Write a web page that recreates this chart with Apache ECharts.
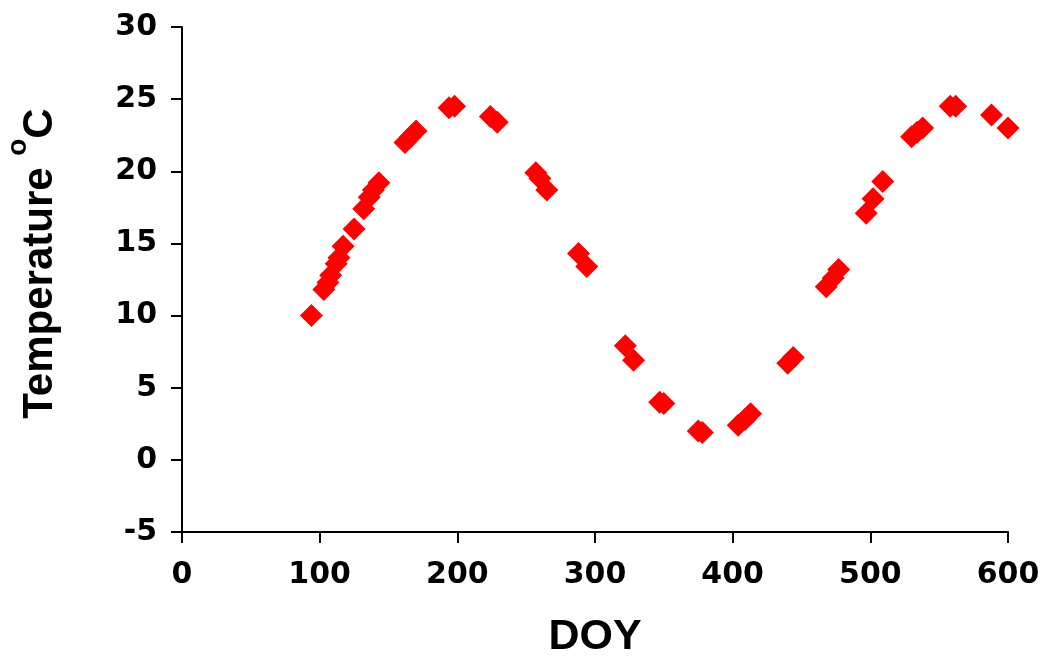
<!DOCTYPE html>
<html>
<head>
<meta charset="utf-8">
<script src="https://cdn.jsdelivr.net/npm/echarts@6/dist/echarts.min.js"></script>
<style>
  html, body { margin: 0; padding: 0; background: #fff; }
  #chart { width: 1045px; height: 656px; }
</style>
</head>
<body>
<div id="chart"></div>
<script>
// values
const doy = [94, 103, 106, 108, 112, 114, 117, 125, 132, 136, 139, 143,
  162, 166, 170, 194, 198, 224, 229, 257, 260, 265, 288, 294,
  322, 328, 347, 350, 375, 378, 404, 409, 413, 440, 444,
  468, 473, 477, 497, 502, 509, 530, 534, 538, 558, 562, 588, 600];
const temp = [10.0, 11.8, 12.3, 12.8, 13.6, 14.0, 14.8, 16.0, 17.4, 18.2, 18.7, 19.2,
  22.0, 22.4, 22.8, 24.4, 24.5, 23.8, 23.4, 19.9, 19.5, 18.7, 14.3, 13.4,
  7.9, 6.9, 4.0, 3.9, 2.0, 1.9, 2.4, 2.8, 3.2, 6.7, 7.1,
  12.0, 12.6, 13.2, 17.1, 18.1, 19.3, 22.4, 22.7, 23.0, 24.5, 24.5, 23.9, 23.0];
const xTicks = [0, 600, 100];   // min, max, step
const yTicks = [-5, 30, 5];

const points = doy.map((d, i) => [d, temp[i]]);
const font = '"Liberation Sans", Arial, sans-serif';
const tickFont = '"DejaVu Sans", sans-serif';

const chart = echarts.init(document.getElementById('chart'));
chart.setOption({
  animation: false,
  grid: { left: 182, right: 37, top: 27, bottom: 124, outerBoundsMode: 'none', containLabel: false },
  xAxis: {
    type: 'value',
    min: xTicks[0], max: xTicks[1], interval: xTicks[2],
    name: 'DOY',
    nameLocation: 'middle',
    nameGap: 84,
    nameTextStyle: { fontFamily: font, fontWeight: 'bold', fontSize: 43, color: '#000' },
    splitLine: { show: false },
    axisLine: { onZero: false, lineStyle: { color: '#000', width: 2 } },
    axisTick: { length: 11, lineStyle: { color: '#000', width: 2 } },
    axisLabel: { margin: 28, fontFamily: tickFont, fontWeight: 'bold', fontSize: 30, color: '#000' }
  },
  yAxis: {
    type: 'value',
    min: yTicks[0], max: yTicks[1], interval: yTicks[2],
    name: '{t|Temperature }{s|o}{t|C}',
    nameLocation: 'middle',
    nameGap: 121,
    nameRotate: 90,
    nameTextStyle: {
      fontFamily: font, fontWeight: 'bold', fontSize: 42, color: '#000',
      padding: [0, 0, 0, 32],
      rich: {
        t: { fontFamily: font, fontWeight: 'bold', fontSize: 42, lineHeight: 42, color: '#000', verticalAlign: 'bottom' },
        s: { fontFamily: font, fontWeight: 'bold', fontSize: 28, lineHeight: 57, color: '#000', verticalAlign: 'top' }
      }
    },
    splitLine: { show: false },
    axisLine: { onZero: false, lineStyle: { color: '#000', width: 2 } },
    axisTick: { length: 11, lineStyle: { color: '#000', width: 2 } },
    axisLabel: { margin: 25, fontFamily: tickFont, fontWeight: 'bold', fontSize: 30, color: '#000' }
  },
  series: [{
    type: 'scatter',
    data: points,
    symbol: 'diamond',
    symbolSize: 23,
    clip: false,
    itemStyle: { color: '#ff0000', opacity: 1 }
  }]
});
</script>
</body>
</html>
